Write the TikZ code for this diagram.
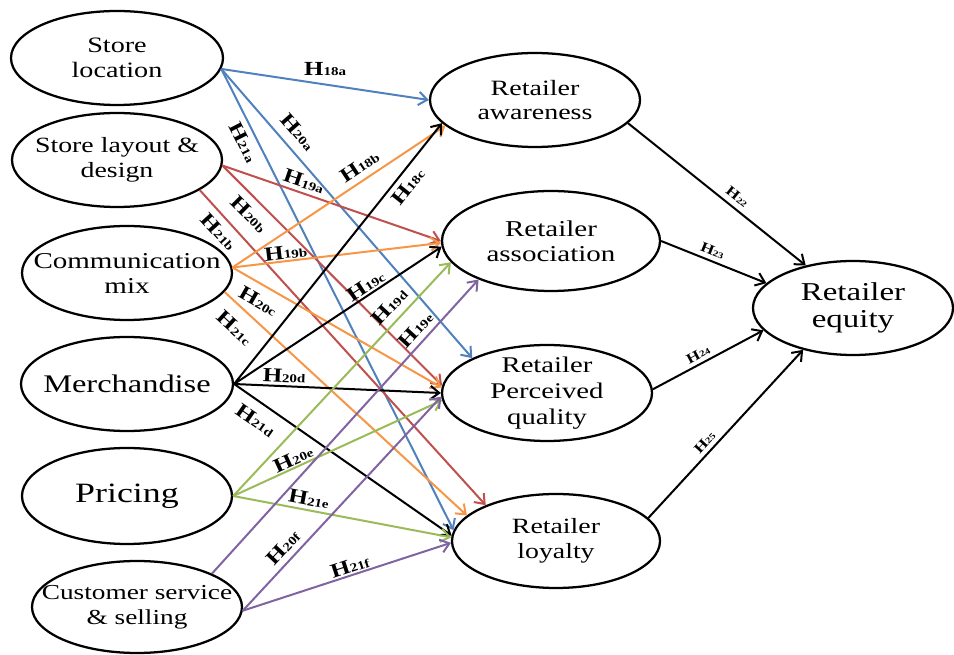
\documentclass[tikz,border=0pt]{standalone}
\usepackage{fontspec}
\setmainfont{Liberation Serif}
\newfontfamily\wideserif[FakeStretch=1.28]{Liberation Serif}
\newfontfamily\hypserif[FakeStretch=1.25]{Liberation Serif}
\usetikzlibrary{shapes.geometric,arrows.meta}

\definecolor{lnblue}{RGB}{79,129,189}
\definecolor{lnred}{RGB}{192,80,77}
\definecolor{lnorange}{RGB}{247,150,70}
\definecolor{lngreen}{RGB}{155,187,89}
\definecolor{lnpurple}{RGB}{128,100,162}

% hypothesis tags: large H followed by a small index
\newcommand\hyp[1]{{\hypserif\bfseries\fontsize{15}{15}\selectfont H\fontsize{9}{9}\selectfont #1}}
\newcommand\hypsm[1]{{\hypserif\bfseries\fontsize{10.5}{10.5}\selectfont H\fontsize{6.5}{6.5}\selectfont #1}}

\begin{document}
\begin{tikzpicture}[x=0.75pt,y=-0.75pt,
  construct/.style={ellipse, draw, line width=1.7pt, inner sep=0pt, fill=white},
  ctext/.style={align=center, inner sep=0pt},
  conn/.style={line width=1.5pt, -{Straight Barb[length=6.5pt,width=10pt]}},
  lab/.style={inner sep=1pt, sloped, text=black},
  labflat/.style={inner sep=1pt, text=black},
  labsm/.style={inner sep=1pt, sloped, text=black}]
\useasboundingbox (0,0) rectangle (954,655);

% antecedents
\node[construct, minimum width=159pt, minimum height=70.5pt,
  label={[ctext,font=\wideserif\fontsize{16.5}{18.75}\selectfont]center:Store\\location}] (sl) at (117,58) {};
\node[construct, minimum width=157.5pt, minimum height=70.5pt,
  label={[ctext,font=\wideserif\fontsize{16.3}{18.75}\selectfont]center:Store layout \&\\design}] (sld) at (117,160) {};
\node[construct, minimum width=157.5pt, minimum height=70.5pt,
  label={[ctext,font=\wideserif\fontsize{17}{18.75}\selectfont]center:Communication\\mix}] (cm) at (127,273) {};
\node[construct, minimum width=159pt, minimum height=70.5pt,
  label={[ctext,font=\wideserif\fontsize{19}{20}\selectfont]center:Merchandise}] (mer) at (127,384) {};
\node[construct, minimum width=157.5pt, minimum height=72pt,
  label={[ctext,font=\wideserif\fontsize{21}{22}\selectfont]center:Pricing}] (pr) at (127,496) {};
\node[construct, minimum width=157.5pt, minimum height=69pt,
  label={[ctext,font=\wideserif\fontsize{16}{18.75}\selectfont]center:Customer service\\\& selling}] (cs) at (137,607) {};

% retailer equity dimensions
\node[construct, minimum width=157.5pt, minimum height=70.5pt,
  label={[ctext,font=\wideserif\fontsize{16.4}{17.5}\selectfont]center:Retailer\\awareness}] (aw) at (535,100) {};
\node[construct, minimum width=163.5pt, minimum height=75pt,
  label={[ctext,font=\wideserif\fontsize{17}{18.5}\selectfont]center:Retailer\\association}] (ras) at (551,241) {};
\node[construct, minimum width=157.5pt, minimum height=72pt,
  label={[ctext,font=\wideserif\fontsize{16.8}{19.5}\selectfont]center:Retailer\\Perceived\\quality}] (pq) at (547,393) {};
\node[construct, minimum width=156pt, minimum height=70.5pt,
  label={[ctext,font=\wideserif\fontsize{16.3}{18.75}\selectfont]center:Retailer\\loyalty}] (lo) at (556,541) {};
\node[construct, minimum width=150pt, minimum height=70.5pt,
  label={[ctext,font=\wideserif\fontsize{19.3}{20.25}\selectfont]center:Retailer\\equity}] (eq) at (853,308) {};

% store location
\draw[conn,lnblue] (sl.-6) -- node[labflat,pos=0.5,above=5pt]{\hyp{18a}} (aw.180);
\draw[conn,lnblue] (sl.-6) -- node[lab,pos=0.255,above=6pt]{\hyp{20a}} (pq.155);
\draw[conn,lnblue] (sl.-6) -- node[lab,pos=0.146,below=3pt]{\hyp{21a}} (lo.174);

% store layout & design
\draw[conn,lnred] (sld.-3) -- node[lab,pos=0.356,above=2pt]{\hyp{19a}} (ras.180);
\draw[conn,lnred] (sld.-3) -- node[lab,pos=0.172,below=4.8pt]{\hyp{20b}} (pq.176);
\draw[conn,lnred] (sld.-20) -- node[lab,pos=0.103,below=3.6pt]{\hyp{21b}} (lo.153);

% communication mix
\draw[conn,lnorange] (cm.3) -- node[lab,pos=0.633,above=3.7pt]{\hyp{18b}} (aw.196);
\draw[conn,lnorange] (cm.3) -- node[lab,pos=0.26,above=0pt]{\hyp{19b}} (ras.181);
\draw[conn,lnorange] (cm.3) -- node[lab,pos=0.163,below=5.6pt]{\hyp{20c}} (pq.177);
\draw[conn,lnorange] (cm.-11) -- node[lab,pos=0.097,below=8pt]{\hyp{21c}} (lo.164);

% merchandise
\draw[conn] (mer.0) -- node[lab,pos=0.788,below=2.8pt]{\hyp{18c}} (aw.194);
\draw[conn] (mer.0) -- node[lab,pos=0.66,above=0.6pt]{\hyp{19c}} (ras.183);
\draw[conn] (mer.0) -- node[lab,pos=0.24,above=1.2pt]{\hyp{20d}} (pq.180);
\draw[conn] (mer.0) -- node[lab,pos=0.145,below=6.4pt]{\hyp{21d}} (lo.177);

% pricing
\draw[conn,lngreen] (pr.0) -- node[lab,pos=0.767,above=4.3pt]{\hyp{19d}} (ras.192);
\draw[conn,lngreen] (pr.0) -- node[lab,pos=0.305,above=0pt]{\hyp{20e}} (pq.184);
\draw[conn,lngreen] (pr.0) -- node[lab,pos=0.338,above=1.7pt]{\hyp{21e}} (lo.178);

% customer service & selling
\draw[conn,lnpurple] (cs.24) -- node[lab,pos=0.8,above=3pt]{\hyp{19e}} (ras.208);
\draw[conn,lnpurple] (cs.-2) -- node[lab,pos=0.252,above=3.1pt]{\hyp{20f}} (pq.182);
\draw[conn,lnpurple] (cs.-2) -- node[lab,pos=0.528,above=0pt]{\hyp{21f}} (lo.181);

% dimensions to retailer equity
\draw[conn] (aw.-14) -- node[labsm,pos=0.577,above=3pt]{\hypsm{22}} (eq.138);
\draw[conn] (ras.0) -- node[labsm,pos=0.455,above=2pt]{\hypsm{23}} (eq.164);
\draw[conn] (pq.2) -- node[labsm,pos=0.45,above=2pt]{\hypsm{24}} (eq.194);
\draw[conn] (lo.14) -- node[labsm,pos=0.41,above=2pt]{\hypsm{25}} (eq.220);
\end{tikzpicture}
\end{document}
